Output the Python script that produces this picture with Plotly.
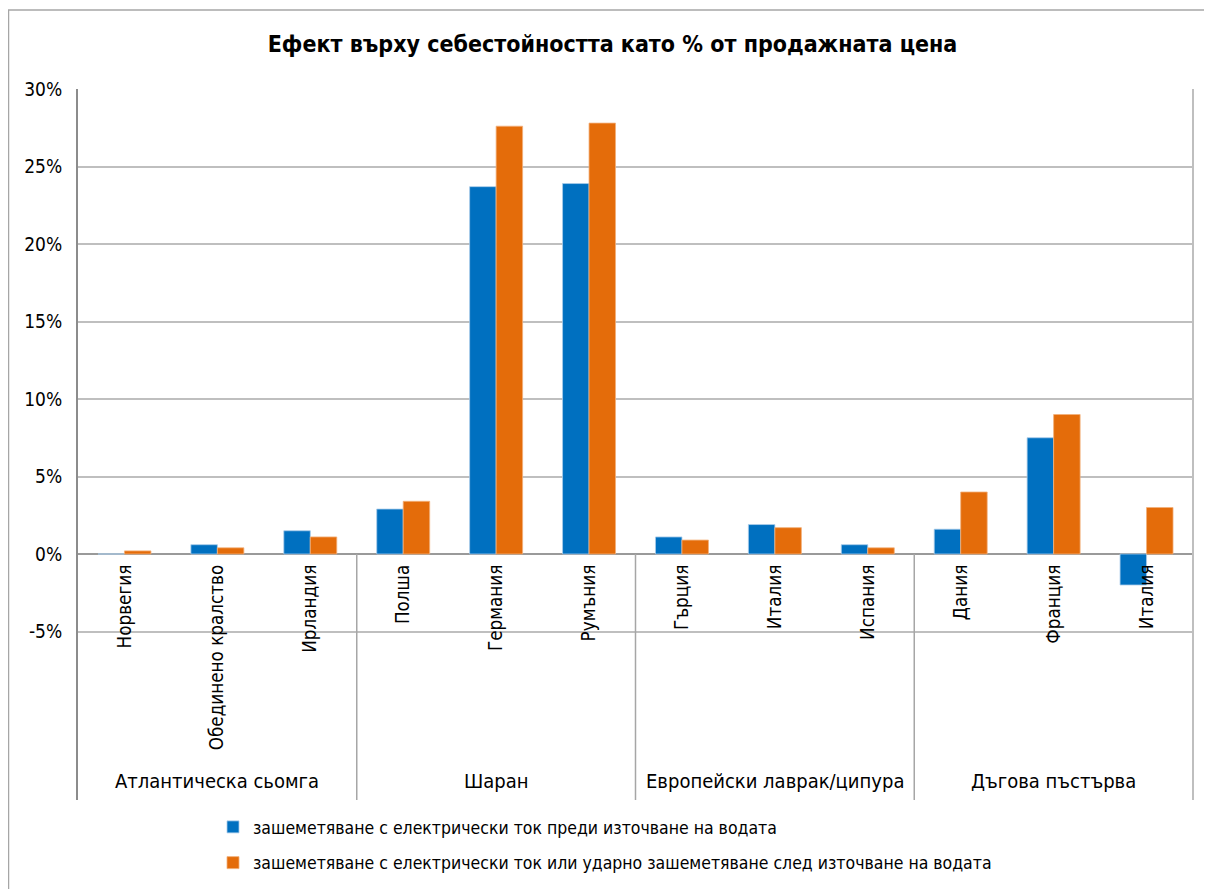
import plotly.graph_objects as go

groups = ["Атлантическа сьомга", "Шаран", "Европейски лаврак/ципура", "Дъгова пъстърва"]
countries = ["Норвегия", "Обединено кралство", "Ирландия",
             "Полша", "Германия", "Румъния",
             "Гърция", "Италия", "Испания",
             "Дания", "Франция", "Италия"]
group_sizes = [3, 3, 3, 3]
series_names = ["зашеметяване с електрически ток преди източване на водата",
                "зашеметяване с електрически ток или ударно зашеметяване след източване на водата"]
before_drain = [0.0, 0.6, 1.5, 2.9, 23.7, 23.9, 1.1, 1.9, 0.6, 1.6, 7.5, -2.0]
after_drain = [0.2, 0.4, 1.1, 3.4, 27.6, 27.8, 0.9, 1.7, 0.4, 4.0, 9.0, 3.0]
y_ticks = [-5, 0, 5, 10, 15, 20, 25, 30]
y_ticktext = ["-5%", "0%", "5%", "10%", "15%", "20%", "25%", "30%"]

FONT = "DejaVu Sans Condensed, DejaVu Sans, sans-serif"
OFF = 8  # page body margin
W, H = 1212 - OFF, 889 - OFF
L, R, T, B = 78 - OFF, 1193 - OFF, 89 - OFF, 800 - OFF
ZERO_Y = 554 - OFF
ymin, ymax = -15.87, 30

pos = list(range(len(countries)))

fig = go.Figure()
fig.add_trace(go.Bar(x=pos, y=before_drain, name=series_names[0],
                     marker=dict(color="#0070C0", line=dict(color="#A9CBEA", width=0.8)),
                     legendgroup="a"))
fig.add_trace(go.Bar(x=pos, y=after_drain, name=series_names[1],
                     marker=dict(color="#E46C0A", line=dict(color="#F2B07A", width=0.8)),
                     legendgroup="b"))

px = lambda v: (v - L) / (R - L)
py = lambda v: (B - v) / (B - T)

shapes = []
# group separators
start = 0
for gsize in group_sizes:
    end = start + gsize
    shapes.append(dict(type="line", xref="x", yref="y", x0=end - 0.5, x1=end - 0.5,
                       y0=0, y1=ymin, line=dict(color="#A6A6A6", width=1.5)))
    start = end
# right border of plot area
shapes.append(dict(type="line", xref="paper", yref="paper", x0=1, x1=1, y0=0, y1=1,
                   line=dict(color="#BFBFBF", width=2)))
# outer chart frame
shapes.append(dict(type="rect", xref="paper", yref="paper",
                   x0=px(0.5), x1=px(1240), y0=py(900), y1=py(2),
                   line=dict(color="#A6A6A6", width=1.5), fillcolor="rgba(0,0,0,0)"))

annotations = []
start = 0
for g, gsize in zip(groups, group_sizes):
    center = start + (gsize - 1) / 2
    annotations.append(dict(x=center, y=py(781 - OFF), xref="x", yref="paper", text=g,
                            showarrow=False, font=dict(family=FONT, size=20, color="#000000"),
                            xanchor="center", yanchor="middle"))
    start += gsize

fig.update_layout(
    width=W, height=H,
    margin=dict(l=L, r=W - R, t=T, b=H - B, autoexpand=False),
    paper_bgcolor="white", plot_bgcolor="white",
    barmode="group", bargap=0.43, bargroupgap=0,
    title=dict(text="<b>Ефект върху себестойността като % от продажната цена</b>",
               x=(612.5 - OFF) / W, xref="container", xanchor="center",
               y=1 - (44 - OFF) / H, yref="container", yanchor="middle",
               font=dict(family=FONT, size=23, color="#000000")),
    font=dict(family=FONT, size=18, color="#000000"),
    shapes=shapes, annotations=annotations,
    showlegend=True,
    legend=dict(orientation="v", x=px(205), y=py(801), xanchor="left", yanchor="top",
                font=dict(family=FONT, size=17.5, color="#000000"),
                tracegroupgap=10, itemwidth=30, bgcolor="rgba(0,0,0,0)"),
    xaxis=dict(range=[-0.5, len(countries) - 0.5], tickvals=pos, ticktext=countries,
               tickangle=-90, anchor="free", position=(B - ZERO_Y) / (B - T),
               showgrid=False, showline=False, zeroline=False, ticks="",
               ticklabelstandoff=6,
               tickfont=dict(family=FONT, size=18.7, color="#000000"), automargin=False),
    yaxis=dict(range=[ymin, ymax], tickvals=y_ticks, ticktext=y_ticktext,
               showgrid=True, gridcolor="#BFBFBF", gridwidth=2,
               zeroline=True, zerolinecolor="#9A9A9A", zerolinewidth=2,
               showline=True, linecolor="#8C8C8C", linewidth=2, ticks="",
               ticklabelstandoff=10,
               tickfont=dict(family=FONT, size=19, color="#000000"), automargin=False),
)

fig.write_html("out.html")
